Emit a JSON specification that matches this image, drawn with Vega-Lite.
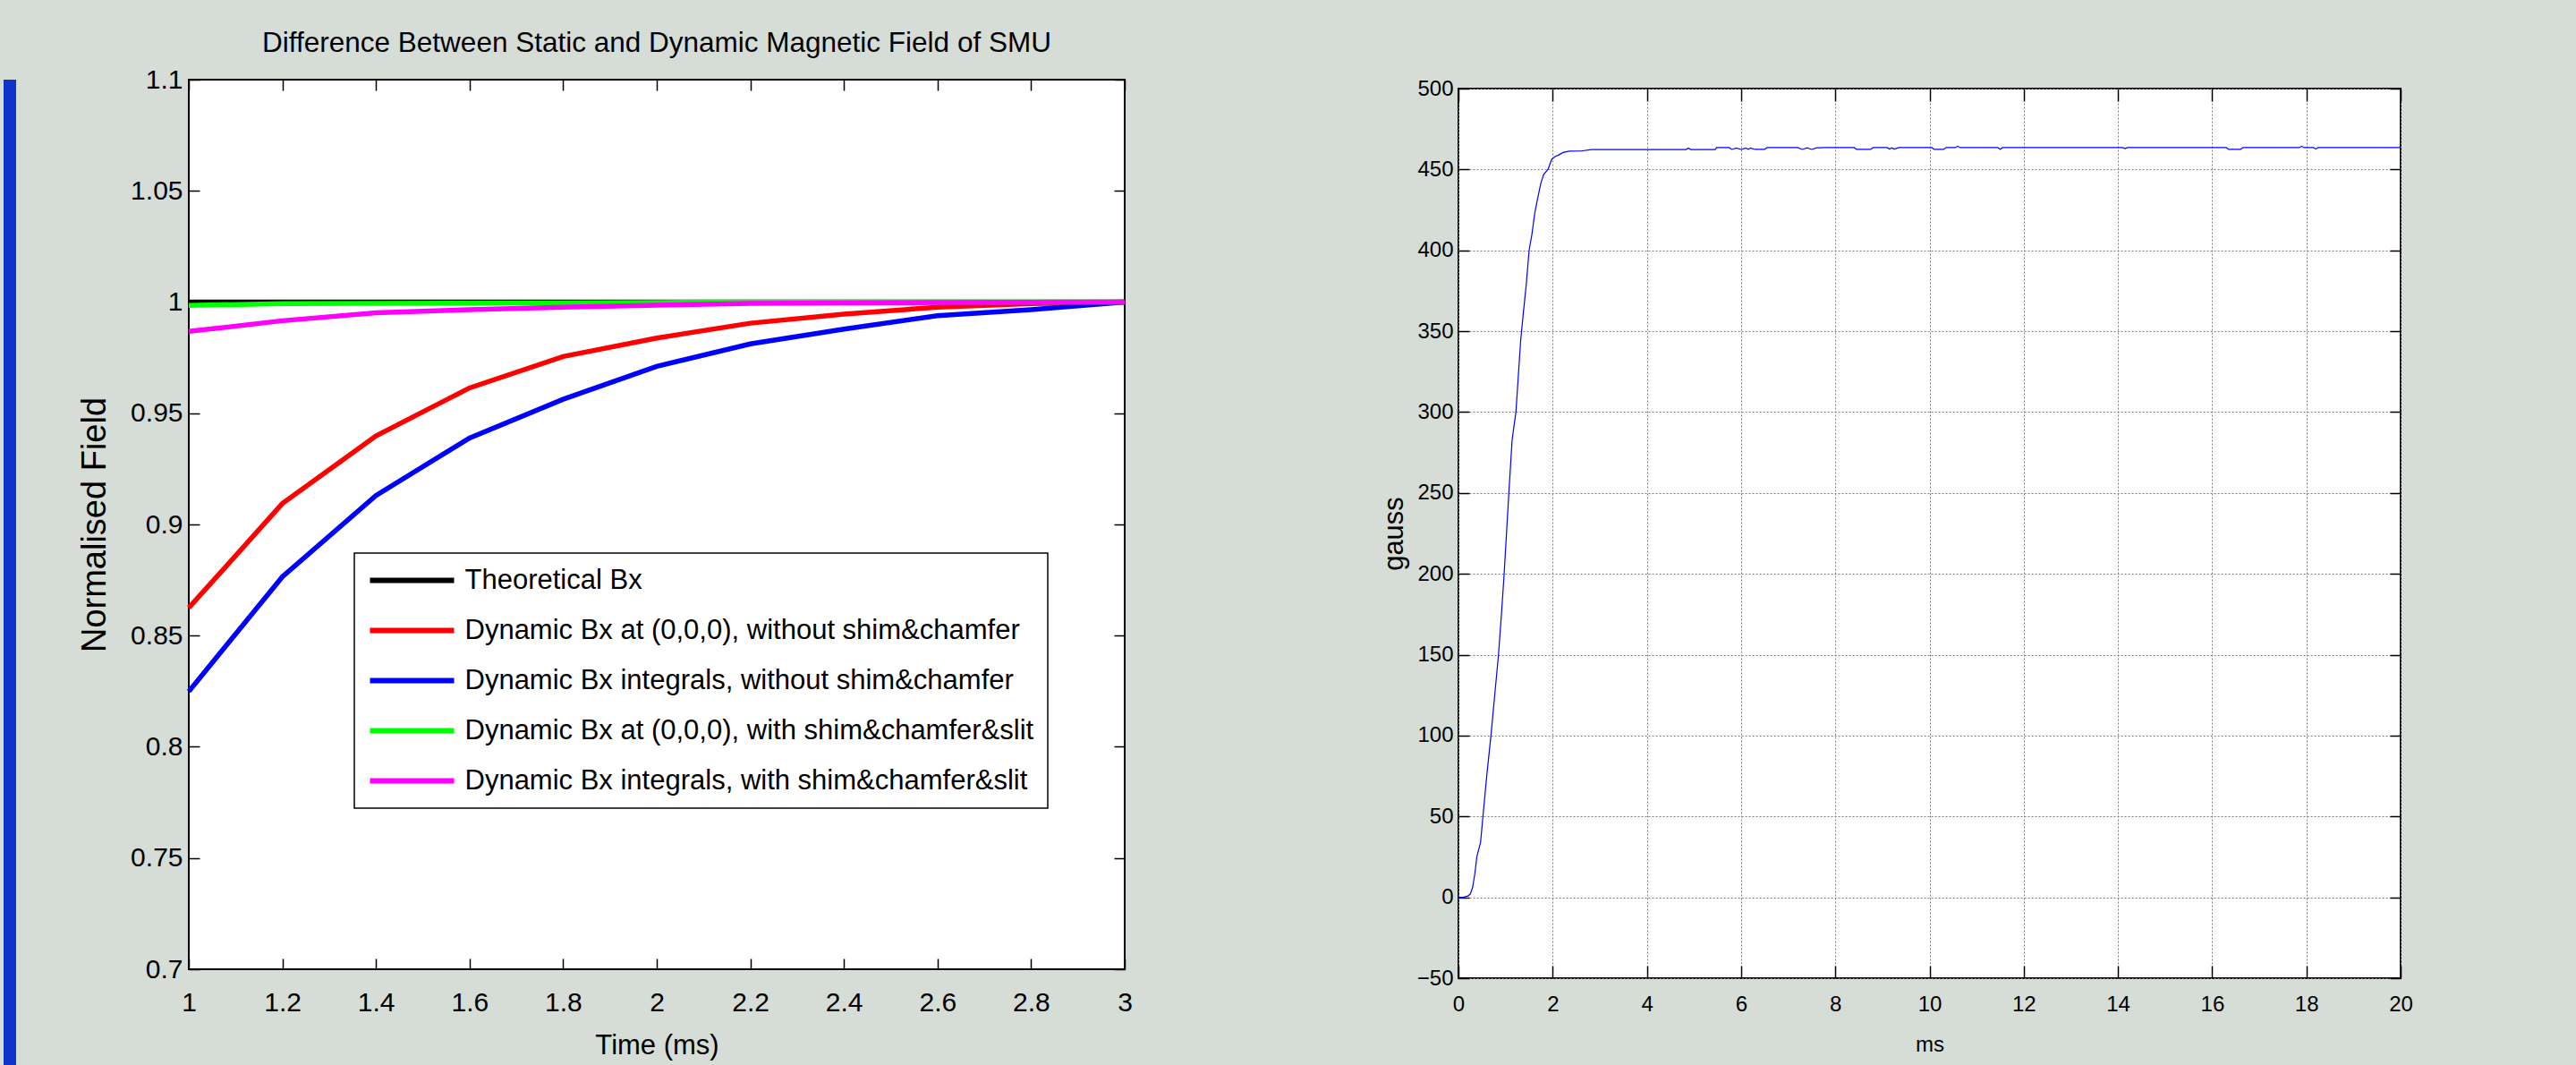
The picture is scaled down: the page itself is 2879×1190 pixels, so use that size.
{
  "$schema": "https://vega.github.io/schema/vega-lite/v6.json",
  "background": "#d6ddd7",
  "padding": {"left": 4, "top": 31, "right": 185, "bottom": 0},
  "autosize": {"type": "pad"},
  "config": {
    "font": "Liberation Sans",
    "view": {"fill": "white", "stroke": "black", "strokeWidth": 2},
    "axis": {"domain": false, "labelColor": "black", "titleColor": "black", "tickColor": "black", "tickWidth": 1.5, "labelFont": "Liberation Sans", "titleFont": "Liberation Sans", "titleFontWeight": "normal", "labelFlush": false, "labelOverlap": false},
    "legend": {"strokeWidth": 1.5}
  },
  "datasets": {
    "smu": [
      {"s": "Theoretical Bx", "t": 1.0, "v": 1.0},
      {"s": "Theoretical Bx", "t": 1.2, "v": 1.0},
      {"s": "Theoretical Bx", "t": 1.4, "v": 1.0},
      {"s": "Theoretical Bx", "t": 1.6, "v": 1.0},
      {"s": "Theoretical Bx", "t": 1.8, "v": 1.0},
      {"s": "Theoretical Bx", "t": 2.0, "v": 1.0},
      {"s": "Theoretical Bx", "t": 2.2, "v": 1.0},
      {"s": "Theoretical Bx", "t": 2.4, "v": 1.0},
      {"s": "Theoretical Bx", "t": 2.6, "v": 1.0},
      {"s": "Theoretical Bx", "t": 2.8, "v": 1.0},
      {"s": "Theoretical Bx", "t": 3.0, "v": 1.0},
      {"s": "Dynamic Bx at (0,0,0), without shim&chamfer", "t": 1.0, "v": 0.8625},
      {"s": "Dynamic Bx at (0,0,0), without shim&chamfer", "t": 1.2, "v": 0.9094},
      {"s": "Dynamic Bx at (0,0,0), without shim&chamfer", "t": 1.4, "v": 0.9398},
      {"s": "Dynamic Bx at (0,0,0), without shim&chamfer", "t": 1.6, "v": 0.9614},
      {"s": "Dynamic Bx at (0,0,0), without shim&chamfer", "t": 1.8, "v": 0.9755},
      {"s": "Dynamic Bx at (0,0,0), without shim&chamfer", "t": 2.0, "v": 0.9838},
      {"s": "Dynamic Bx at (0,0,0), without shim&chamfer", "t": 2.2, "v": 0.9905},
      {"s": "Dynamic Bx at (0,0,0), without shim&chamfer", "t": 2.4, "v": 0.9946},
      {"s": "Dynamic Bx at (0,0,0), without shim&chamfer", "t": 2.6, "v": 0.9977},
      {"s": "Dynamic Bx at (0,0,0), without shim&chamfer", "t": 2.8, "v": 0.9993},
      {"s": "Dynamic Bx at (0,0,0), without shim&chamfer", "t": 3.0, "v": 1.0},
      {"s": "Dynamic Bx integrals, without shim&chamfer", "t": 1.0, "v": 0.8249},
      {"s": "Dynamic Bx integrals, without shim&chamfer", "t": 1.2, "v": 0.8765},
      {"s": "Dynamic Bx integrals, without shim&chamfer", "t": 1.4, "v": 0.913},
      {"s": "Dynamic Bx integrals, without shim&chamfer", "t": 1.6, "v": 0.9389},
      {"s": "Dynamic Bx integrals, without shim&chamfer", "t": 1.8, "v": 0.9563},
      {"s": "Dynamic Bx integrals, without shim&chamfer", "t": 2.0, "v": 0.9711},
      {"s": "Dynamic Bx integrals, without shim&chamfer", "t": 2.2, "v": 0.9812},
      {"s": "Dynamic Bx integrals, without shim&chamfer", "t": 2.4, "v": 0.9878},
      {"s": "Dynamic Bx integrals, without shim&chamfer", "t": 2.6, "v": 0.9939},
      {"s": "Dynamic Bx integrals, without shim&chamfer", "t": 2.8, "v": 0.9966},
      {"s": "Dynamic Bx integrals, without shim&chamfer", "t": 3.0, "v": 1.0},
      {"s": "Dynamic Bx at (0,0,0), with shim&chamfer&slit", "t": 1.0, "v": 0.9985},
      {"s": "Dynamic Bx at (0,0,0), with shim&chamfer&slit", "t": 1.2, "v": 0.9993},
      {"s": "Dynamic Bx at (0,0,0), with shim&chamfer&slit", "t": 1.4, "v": 0.9994},
      {"s": "Dynamic Bx at (0,0,0), with shim&chamfer&slit", "t": 1.6, "v": 0.9995},
      {"s": "Dynamic Bx at (0,0,0), with shim&chamfer&slit", "t": 1.8, "v": 0.9996},
      {"s": "Dynamic Bx at (0,0,0), with shim&chamfer&slit", "t": 2.0, "v": 0.9998},
      {"s": "Dynamic Bx at (0,0,0), with shim&chamfer&slit", "t": 2.2, "v": 1.0},
      {"s": "Dynamic Bx at (0,0,0), with shim&chamfer&slit", "t": 2.4, "v": 1.0},
      {"s": "Dynamic Bx at (0,0,0), with shim&chamfer&slit", "t": 2.6, "v": 1.0},
      {"s": "Dynamic Bx at (0,0,0), with shim&chamfer&slit", "t": 2.8, "v": 1.0},
      {"s": "Dynamic Bx at (0,0,0), with shim&chamfer&slit", "t": 3.0, "v": 1.0},
      {"s": "Dynamic Bx integrals, with shim&chamfer&slit", "t": 1.0, "v": 0.9868},
      {"s": "Dynamic Bx integrals, with shim&chamfer&slit", "t": 1.2, "v": 0.9916},
      {"s": "Dynamic Bx integrals, with shim&chamfer&slit", "t": 1.4, "v": 0.9952},
      {"s": "Dynamic Bx integrals, with shim&chamfer&slit", "t": 1.6, "v": 0.9966},
      {"s": "Dynamic Bx integrals, with shim&chamfer&slit", "t": 1.8, "v": 0.9977},
      {"s": "Dynamic Bx integrals, with shim&chamfer&slit", "t": 2.0, "v": 0.9986},
      {"s": "Dynamic Bx integrals, with shim&chamfer&slit", "t": 2.2, "v": 0.9994},
      {"s": "Dynamic Bx integrals, with shim&chamfer&slit", "t": 2.4, "v": 0.9996},
      {"s": "Dynamic Bx integrals, with shim&chamfer&slit", "t": 2.6, "v": 0.9998},
      {"s": "Dynamic Bx integrals, with shim&chamfer&slit", "t": 2.8, "v": 0.9999},
      {"s": "Dynamic Bx integrals, with shim&chamfer&slit", "t": 3.0, "v": 1.0}
    ],
    "gauss": [
      {"t": 0, "g": 0}, {"t": 0.1, "g": 0}, {"t": 0.2, "g": 0.8}, {"t": 0.25, "g": 2}, {"t": 0.3, "g": 6},
      {"t": 0.35, "g": 15}, {"t": 0.39, "g": 25}, {"t": 0.47, "g": 34}, {"t": 0.52, "g": 50}, {"t": 0.6, "g": 75},
      {"t": 0.69, "g": 100}, {"t": 0.77, "g": 125}, {"t": 0.85, "g": 150}, {"t": 0.92, "g": 178}, {"t": 0.97, "g": 200},
      {"t": 1.02, "g": 225}, {"t": 1.07, "g": 250}, {"t": 1.14, "g": 283}, {"t": 1.22, "g": 300}, {"t": 1.27, "g": 322},
      {"t": 1.32, "g": 344}, {"t": 1.38, "g": 362}, {"t": 1.44, "g": 379}, {"t": 1.5, "g": 400}, {"t": 1.56, "g": 410},
      {"t": 1.62, "g": 423}, {"t": 1.68, "g": 432}, {"t": 1.75, "g": 441.6}, {"t": 1.81, "g": 447}, {"t": 1.9, "g": 450},
      {"t": 1.98, "g": 456.3}, {"t": 2.05, "g": 458}, {"t": 2.13, "g": 459}, {"t": 2.22, "g": 460.5}, {"t": 2.35, "g": 461.3},
      {"t": 2.6, "g": 461.4}, {"t": 2.82, "g": 462.3}, {"t": 4.83, "g": 462.3}, {"t": 4.88, "g": 463.2}, {"t": 4.93, "g": 462.3},
      {"t": 5.45, "g": 462.3}, {"t": 5.48, "g": 463.5}, {"t": 5.75, "g": 463.5}, {"t": 5.8, "g": 462.4}, {"t": 5.9, "g": 463.3},
      {"t": 6.0, "g": 462.4}, {"t": 6.1, "g": 463.3}, {"t": 6.15, "g": 462.5}, {"t": 6.2, "g": 463.3}, {"t": 6.3, "g": 462.4},
      {"t": 6.5, "g": 462.4}, {"t": 6.55, "g": 463.5}, {"t": 7.2, "g": 463.5}, {"t": 7.3, "g": 462.4}, {"t": 7.4, "g": 463.4},
      {"t": 7.5, "g": 462.4}, {"t": 7.6, "g": 463.4}, {"t": 7.8, "g": 463.5}, {"t": 8.4, "g": 463.5}, {"t": 8.45, "g": 462.4},
      {"t": 8.75, "g": 462.4}, {"t": 8.8, "g": 463.5}, {"t": 9.1, "g": 463.5}, {"t": 9.15, "g": 462.6}, {"t": 9.2, "g": 463.4},
      {"t": 9.25, "g": 462.6}, {"t": 9.35, "g": 463.5}, {"t": 10.05, "g": 463.5}, {"t": 10.1, "g": 462.4}, {"t": 10.3, "g": 462.4},
      {"t": 10.35, "g": 463.6}, {"t": 10.55, "g": 463.6}, {"t": 10.6, "g": 464.4}, {"t": 10.65, "g": 463.5}, {"t": 11.45, "g": 463.5},
      {"t": 11.5, "g": 462.5}, {"t": 11.55, "g": 463.5}, {"t": 14.1, "g": 463.5}, {"t": 14.15, "g": 462.9}, {"t": 14.2, "g": 463.5},
      {"t": 16.3, "g": 463.5}, {"t": 16.35, "g": 462.4}, {"t": 16.6, "g": 462.4}, {"t": 16.65, "g": 463.5}, {"t": 17.85, "g": 463.5},
      {"t": 17.9, "g": 464.4}, {"t": 17.95, "g": 463.5}, {"t": 18.15, "g": 463.5}, {"t": 18.2, "g": 462.7}, {"t": 18.25, "g": 463.5},
      {"t": 20, "g": 463.5}
    ]
  },
  "bounds": "full",
  "spacing": 68,
  "hconcat": [
    {
      "width": 14,
      "height": 1104,
      "view": {"fill": "#0d35c9", "stroke": null},
      "data": {"values": [{}]},
      "mark": {"type": "point", "opacity": 0}
    },
    {
      "bounds": "full",
      "spacing": 272,
      "hconcat": [
        {
          "width": 1046,
          "height": 994,
          "title": {"text": "Difference Between Static and Dynamic Magnetic Field of SMU", "font": "Liberation Sans", "fontSize": 31.5, "fontWeight": "normal", "color": "black", "baseline": "alphabetic", "frame": "group", "anchor": "middle", "offset": -15},
          "data": {"name": "smu"},
          "layer": [
            {
              "mark": {"type": "line", "strokeWidth": 5.5},
              "encoding": {
                "x": {"field": "t", "type": "quantitative", "scale": {"domain": [1, 3], "nice": false, "zero": false},
                  "axis": {"orient": "bottom", "values": [1, 1.2, 1.4, 1.6, 1.8, 2, 2.2, 2.4, 2.6, 2.8, 3], "format": "~g", "grid": false, "tickSize": -12, "labelPadding": 34, "labelFontSize": 30, "title": "Time (ms)", "titleFontSize": 31, "titlePadding": 18}},
                "y": {"field": "v", "type": "quantitative", "scale": {"domain": [0.7, 1.1], "nice": false, "zero": false},
                  "axis": {"orient": "left", "values": [0.7, 0.75, 0.8, 0.85, 0.9, 0.95, 1, 1.05, 1.1], "format": "~g", "grid": false, "tickSize": -12, "labelPadding": 19, "labelFontSize": 30, "title": "Normalised Field", "titleFontSize": 38, "titlePadding": 20}},
                "color": {"field": "s", "type": "nominal", "sort": null,
                  "scale": {"domain": ["Theoretical Bx", "Dynamic Bx at (0,0,0), without shim&chamfer", "Dynamic Bx integrals, without shim&chamfer", "Dynamic Bx at (0,0,0), with shim&chamfer&slit", "Dynamic Bx integrals, with shim&chamfer&slit"], "range": ["#000000", "#ff0000", "#0000ff", "#00ff00", "#ff00ff"]},
                  "legend": {"orient": "none", "legendX": 392, "legendY": 529, "title": null, "symbolType": "M-47,0H47", "symbolSize": 4, "symbolStrokeWidth": 6, "symbolOffset": 34, "labelOffset": 43.5, "labelFont": "Liberation Sans", "labelFontSize": 31, "labelColor": "black", "labelLimit": 0, "rowPadding": 24, "padding": 15, "strokeColor": "black", "fillColor": "white"}}
              }
            },
            {
              "mark": {"type": "line", "opacity": 0},
              "encoding": {
                "x": {"field": "t", "type": "quantitative", "scale": {"domain": [1, 3], "nice": false, "zero": false},
                  "axis": {"orient": "top", "values": [1, 1.2, 1.4, 1.6, 1.8, 2, 2.2, 2.4, 2.6, 2.8, 3], "labels": false, "grid": false, "tickSize": -12, "title": null, "minExtent": 0, "maxExtent": 0}},
                "y": {"field": "v", "type": "quantitative", "scale": {"domain": [0.7, 1.1], "nice": false, "zero": false},
                  "axis": {"orient": "right", "values": [0.7, 0.75, 0.8, 0.85, 0.9, 0.95, 1, 1.05, 1.1], "labels": false, "grid": false, "tickSize": -12, "title": null, "minExtent": 0, "maxExtent": 0}},
                "detail": {"field": "s"}
              }
            }
          ],
          "resolve": {"axis": {"x": "independent", "y": "independent"}}
        },
        {
          "bounds": "flush",
          "spacing": 9,
          "vconcat": [
            {
              "width": 1,
              "height": 1,
              "view": {"fill": null, "stroke": null},
              "data": {"values": [{}]},
              "mark": {"type": "point", "opacity": 0}
            },
            {
              "width": 1053,
              "height": 994,
              "data": {"name": "gauss"},
              "layer": [
                {
                  "mark": {"type": "line", "color": "#0000ff", "strokeWidth": 1.2},
                  "encoding": {
                    "x": {"field": "t", "type": "quantitative", "scale": {"domain": [0, 20], "nice": false},
                      "axis": {"orient": "bottom", "values": [0, 2, 4, 6, 8, 10, 12, 14, 16, 18, 20], "grid": true, "gridColor": "#808080", "gridDash": [2, 2], "gridWidth": 1, "tickSize": -14, "labelPadding": 31, "labelFontSize": 24, "title": "ms", "titleFontSize": 24, "titlePadding": 21}},
                    "y": {"field": "g", "type": "quantitative", "scale": {"domain": [-50, 500], "nice": false, "zero": false},
                      "axis": {"orient": "left", "values": [-50, 0, 50, 100, 150, 200, 250, 300, 350, 400, 450, 500], "grid": true, "gridColor": "#808080", "gridDash": [2, 2], "gridWidth": 1, "tickSize": -12, "labelPadding": 18, "labelFontSize": 24, "title": "gauss", "titleFontSize": 31, "titlePadding": 9}}
                  }
                },
                {
                  "mark": {"type": "line", "opacity": 0},
                  "encoding": {
                    "x": {"field": "t", "type": "quantitative", "scale": {"domain": [0, 20], "nice": false},
                      "axis": {"orient": "top", "values": [0, 2, 4, 6, 8, 10, 12, 14, 16, 18, 20], "labels": false, "grid": false, "tickSize": -14, "title": null, "minExtent": 0, "maxExtent": 0}},
                    "y": {"field": "g", "type": "quantitative", "scale": {"domain": [-50, 500], "nice": false, "zero": false},
                      "axis": {"orient": "right", "values": [-50, 0, 50, 100, 150, 200, 250, 300, 350, 400, 450, 500], "labels": false, "grid": false, "tickSize": -12, "title": null, "minExtent": 0, "maxExtent": 0}}
                  }
                }
              ],
              "resolve": {"axis": {"x": "independent", "y": "independent"}}
            }
          ]
        }
      ]
    }
  ]
}
